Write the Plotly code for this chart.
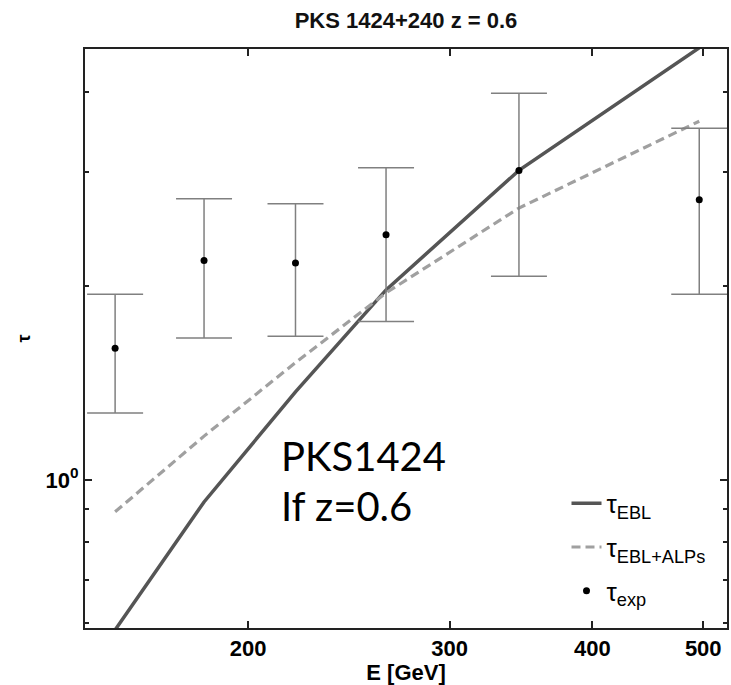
import plotly.graph_objects as go
import math

# ---- data ----
E_gev = [153, 183, 220, 264, 345, 496]
tau_exp = [1.60, 2.19, 2.17, 2.40, 3.02, 2.72]
tau_exp_hi = [1.94, 2.73, 2.68, 3.05, 3.98, 3.51]
tau_exp_lo = [1.27, 1.66, 1.67, 1.76, 2.07, 1.94]
tau_ebl = [0.585, 0.924, 1.369, 1.971, 3.02, 4.68]
tau_ebl_alps = [0.892, 1.169, 1.52, 1.95, 2.64, 3.60]

x_ticks = [200, 300, 400, 500]
y_major = [1]
y_major_text = ["10<sup>0</sup>"]
y_minor = [0.6, 0.7, 0.8, 0.9, 2, 3, 4]

title_text = "PKS 1424+240 z = 0.6"
label_lines = ["PKS1424", "If z=0.6"]

err_plus = [h - v for h, v in zip(tau_exp_hi, tau_exp)]
err_minus = [v - l for v, l in zip(tau_exp, tau_exp_lo)]

FONT = "Liberation Sans, Arial, sans-serif"

fig = go.Figure()
fig.add_trace(go.Scatter(
    x=E_gev, y=tau_ebl, mode="lines", name="τ<sub>EBL</sub>",
    line=dict(color="#555555", width=3.5), legendgroup="a"))
fig.add_trace(go.Scatter(
    x=E_gev, y=tau_ebl_alps, mode="lines", name="τ<sub>EBL+ALPs</sub>",
    line=dict(color="#a0a0a0", width=3.2, dash="9px,5px"), legendgroup="b"))
fig.add_trace(go.Scatter(
    x=E_gev, y=tau_exp, mode="markers", name="τ<sub>exp</sub>",
    marker=dict(color="black", size=7),
    error_y=dict(type="data", symmetric=False, array=err_plus, arrayminus=err_minus,
                 color="#808080", thickness=1.5, width=28),
    legendgroup="c"))

L, R, T, B = 85, 2, 49, 57
W, H = 731, 685

fig.update_layout(
    width=W, height=H,
    margin=dict(l=L, r=R, t=T, b=B),
    paper_bgcolor="white", plot_bgcolor="white",
    font=dict(family=FONT, color="black"),
    title=dict(text=title_text, x=0.5, xref="paper", xanchor="center",
               y=1 - 20 / H, yanchor="middle",
               font=dict(size=22, family=FONT, weight="bold", color="#111")),
    legend=dict(x=(568 - L) / (W - L - R), xanchor="left",
                y=0.256, yanchor="top",
                bgcolor="rgba(0,0,0,0)", font=dict(size=26, family=FONT),
                tracegroupgap=7),
    showlegend=True,
)

fig.update_xaxes(
    type="log", range=[math.log10(144), math.log10(524.5)],
    tickmode="array", tickvals=x_ticks, ticktext=[str(v) for v in x_ticks],
    ticks="inside", ticklen=7, tickwidth=1.5, tickcolor="#222",
    showline=True, linewidth=2, linecolor="#222", mirror="ticks",
    showgrid=False, zeroline=False,
    tickfont=dict(size=22, family=FONT, weight="bold"),
    title=dict(text="E [GeV]", font=dict(size=22, family=FONT, weight="bold"), standoff=1),
)
fig.update_yaxes(
    type="log", range=[math.log10(0.589), math.log10(4.66)],
    tickmode="array", tickvals=y_major, ticktext=y_major_text,
    ticks="inside", ticklen=7, tickwidth=1.5, tickcolor="#222",
    minor=dict(tickmode="array", tickvals=y_minor, ticks="inside", ticklen=4,
               tickwidth=1.5, tickcolor="#222", showgrid=False),
    showline=True, linewidth=2, linecolor="#222", mirror="ticks",
    showgrid=False, zeroline=False,
    tickfont=dict(size=22, family=FONT, weight="bold"),
    title=dict(text="τ", font=dict(size=18, family=FONT, weight="bold"), standoff=10),
)

pw = W - L - R
ph = H - T - B
for line_text, cy in zip(label_lines, [456, 505.5]):
    fig.add_annotation(text=line_text, xref="paper", yref="paper",
                       x=(280 - L) / pw, xanchor="left", y=(628 - cy) / ph, yanchor="middle",
                       showarrow=False, font=dict(size=40, family="Lato, sans-serif", color="black"))

fig.write_html("out.html")
